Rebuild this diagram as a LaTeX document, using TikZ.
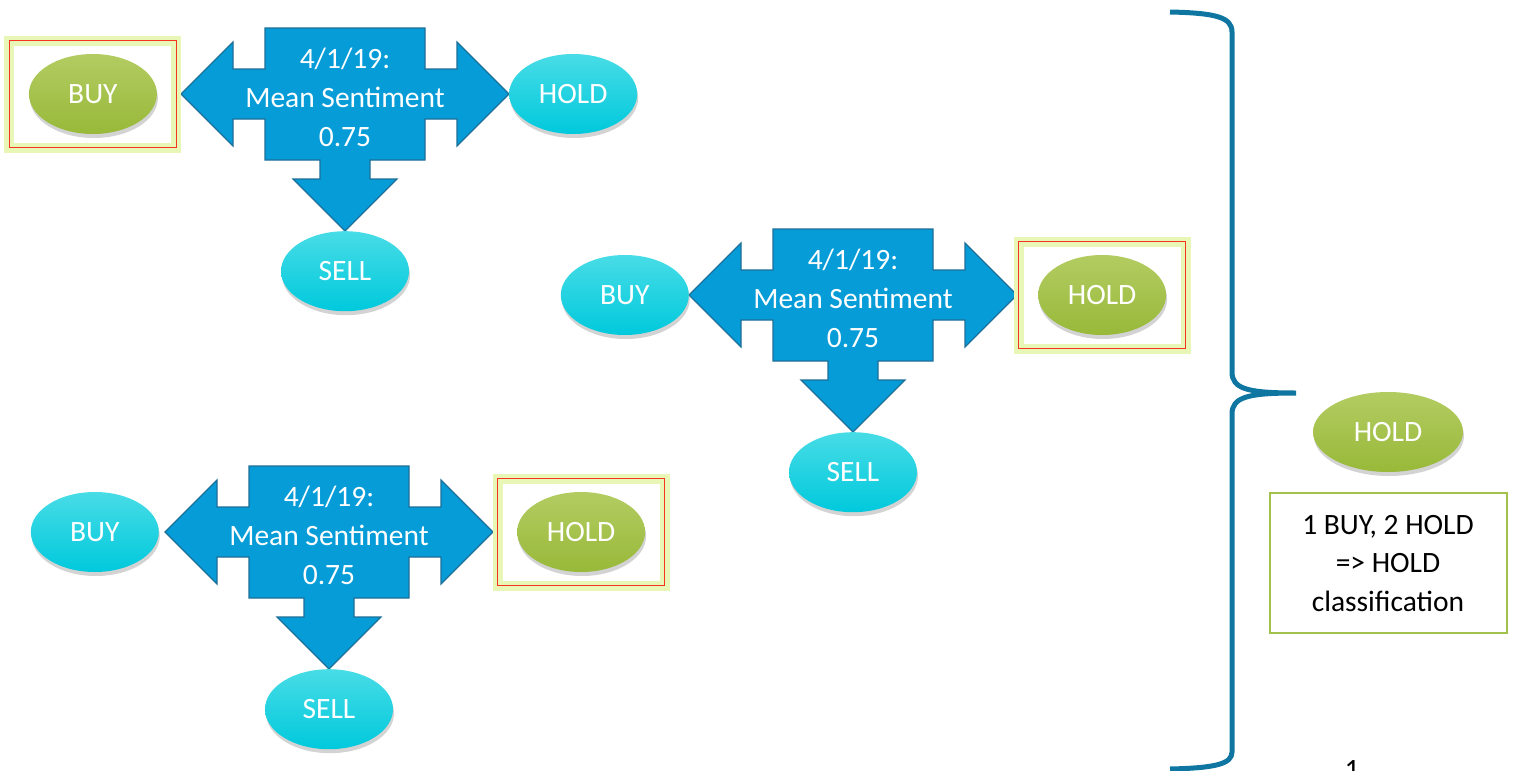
\documentclass[tikz,border=0pt]{standalone}
\usepackage{fontspec}
\setmainfont{Carlito}
\usepackage{xcolor}
\definecolor{arrowBlue}{HTML}{069CD8}
\definecolor{arrowEdge}{HTML}{1D6F98}
\definecolor{cyanTop}{HTML}{48DCE6}
\definecolor{cyanBottom}{HTML}{00C9DC}
\definecolor{greenTop}{HTML}{B3CC62}
\definecolor{greenBottom}{HTML}{98B939}
\definecolor{frameRed}{HTML}{F5331F}
\definecolor{glowGreen}{HTML}{E8F6B6}
\definecolor{braceBlue}{HTML}{0E76A0}
\definecolor{noteGreen}{HTML}{A3C24C}
\usepackage{tikz}
\usetikzlibrary{positioning,shapes.geometric,shadows}
\tikzset{%
  arrowShape/.style={%
    fill=arrowBlue,
    draw=arrowEdge,
    line width=1.2pt,
    line join=miter
  },
  sentText/.style={%
    text=white,
    align=center,
    inner sep=0pt,
    font=\fontsize{29.5}{39}\selectfont
  },
  choice/.style={%
    ellipse,
    minimum width=128pt,
    minimum height=80pt,
    inner sep=0pt,
    text=white,
    font=\fontsize{29.5}{34}\selectfont,
    drop shadow={shadow xshift=1pt, shadow yshift=-4pt, opacity=0.35}
  },
  choiceCyan/.style={%
    choice,
    top color=cyanTop,
    bottom color=cyanBottom
  },
  choiceGreen/.style={%
    choice,
    top color=greenTop,
    bottom color=greenBottom
  },
  pickFrame/.style={%
    rectangle,
    draw=frameRed,
    line width=1.2pt,
    minimum width=167pt,
    minimum height=107pt,
    inner sep=0pt,
    preaction={draw=glowGreen, line width=10pt}
  },
  noteBox/.style={%
    rectangle,
    draw=noteGreen,
    line width=2pt,
    minimum width=237pt,
    minimum height=140pt,
    align=center,
    font=\fontsize{29.5}{38.5}\selectfont
  },
  braceLine/.style={%
    draw=braceBlue,
    line width=5pt
  }
}

% cross arrow with the day's sentiment: name, centre, text
\newcommand{\sentimentArrow}[3]{%
  \begin{scope}[shift={(#2)}]
    \draw[arrowShape] (-80,66) -- (80,66) -- (80,25) -- (112,25) -- (112,52)
      -- (164,0) -- (112,-52) -- (112,-25) -- (80,-25) -- (80,-66)
      -- (25,-66) -- (25,-85) -- (52,-85) -- (0,-137) -- (-52,-85)
      -- (-25,-85) -- (-25,-66) -- (-80,-66) -- (-80,-25) -- (-112,-25)
      -- (-112,-52) -- (-164,0) -- (-112,52) -- (-112,25) -- (-80,25) -- cycle;
    \coordinate (#1-w) at (-164,0);
    \coordinate (#1-e) at (164,0);
    \coordinate (#1-s) at (0,-137);
    \node[sentText] (#1) at (0,-3) {#3};
  \end{scope}}

\begin{document}
\begin{tikzpicture}[x=1pt, y=1pt]
    \useasboundingbox (0,0) rectangle (1513,-771);

    % First vote: BUY
    \sentimentArrow{day1}{345,-94}{4/1/19:\\Mean Sentiment\\0.75}
    \node[pickFrame, left=4pt of day1-w] (pick1) {};
    \node[choiceGreen] (buy1) at (pick1) {BUY};
    \node[choiceCyan, right=0pt of day1-e] (hold1) {HOLD};
    \node[choiceCyan, below=0pt of day1-s] (sell1) {SELL};

    % Second vote: HOLD
    \sentimentArrow{day2}{853,-295}{4/1/19:\\Mean Sentiment\\0.75}
    \node[choiceCyan, left=0pt of day2-w] (buy2) {BUY};
    \node[pickFrame, right=1pt of day2-e] (pick2) {};
    \node[choiceGreen] (hold2) at (pick2) {HOLD};
    \node[choiceCyan, below=0pt of day2-s] (sell2) {SELL};

    % Third vote: HOLD
    \sentimentArrow{day3}{329,-532}{4/1/19:\\Mean Sentiment\\0.75}
    \node[choiceCyan, left=6pt of day3-w] (buy3) {BUY};
    \node[pickFrame, right=4pt of day3-e] (pick3) {};
    \node[choiceGreen] (hold3) at (pick3) {HOLD};
    \node[choiceCyan, below=0pt of day3-s] (sell3) {SELL};

    % Brace and majority result
    \draw[braceLine] (1170,-12) .. controls (1215,-13) and (1232,-17) .. (1232,-32)
      -- (1232,-372) .. controls (1232,-389) and (1248,-393) .. (1296,-393)
      .. controls (1248,-393) and (1232,-397) .. (1232,-414)
      -- (1232,-752) .. controls (1232,-764) and (1215,-768) .. (1170,-769);

    \node[choiceGreen, minimum width=150pt] (result) at (1388,-432) {HOLD};
    \node[noteBox, below=20pt of result] (note) {1 BUY, 2 HOLD\\=> HOLD\\classification};

    \node[anchor=north, inner sep=0pt, font=\fontsize{29.5}{34}\selectfont] (pageNum) at (1352,-760) {1};
\end{tikzpicture}
\end{document}
